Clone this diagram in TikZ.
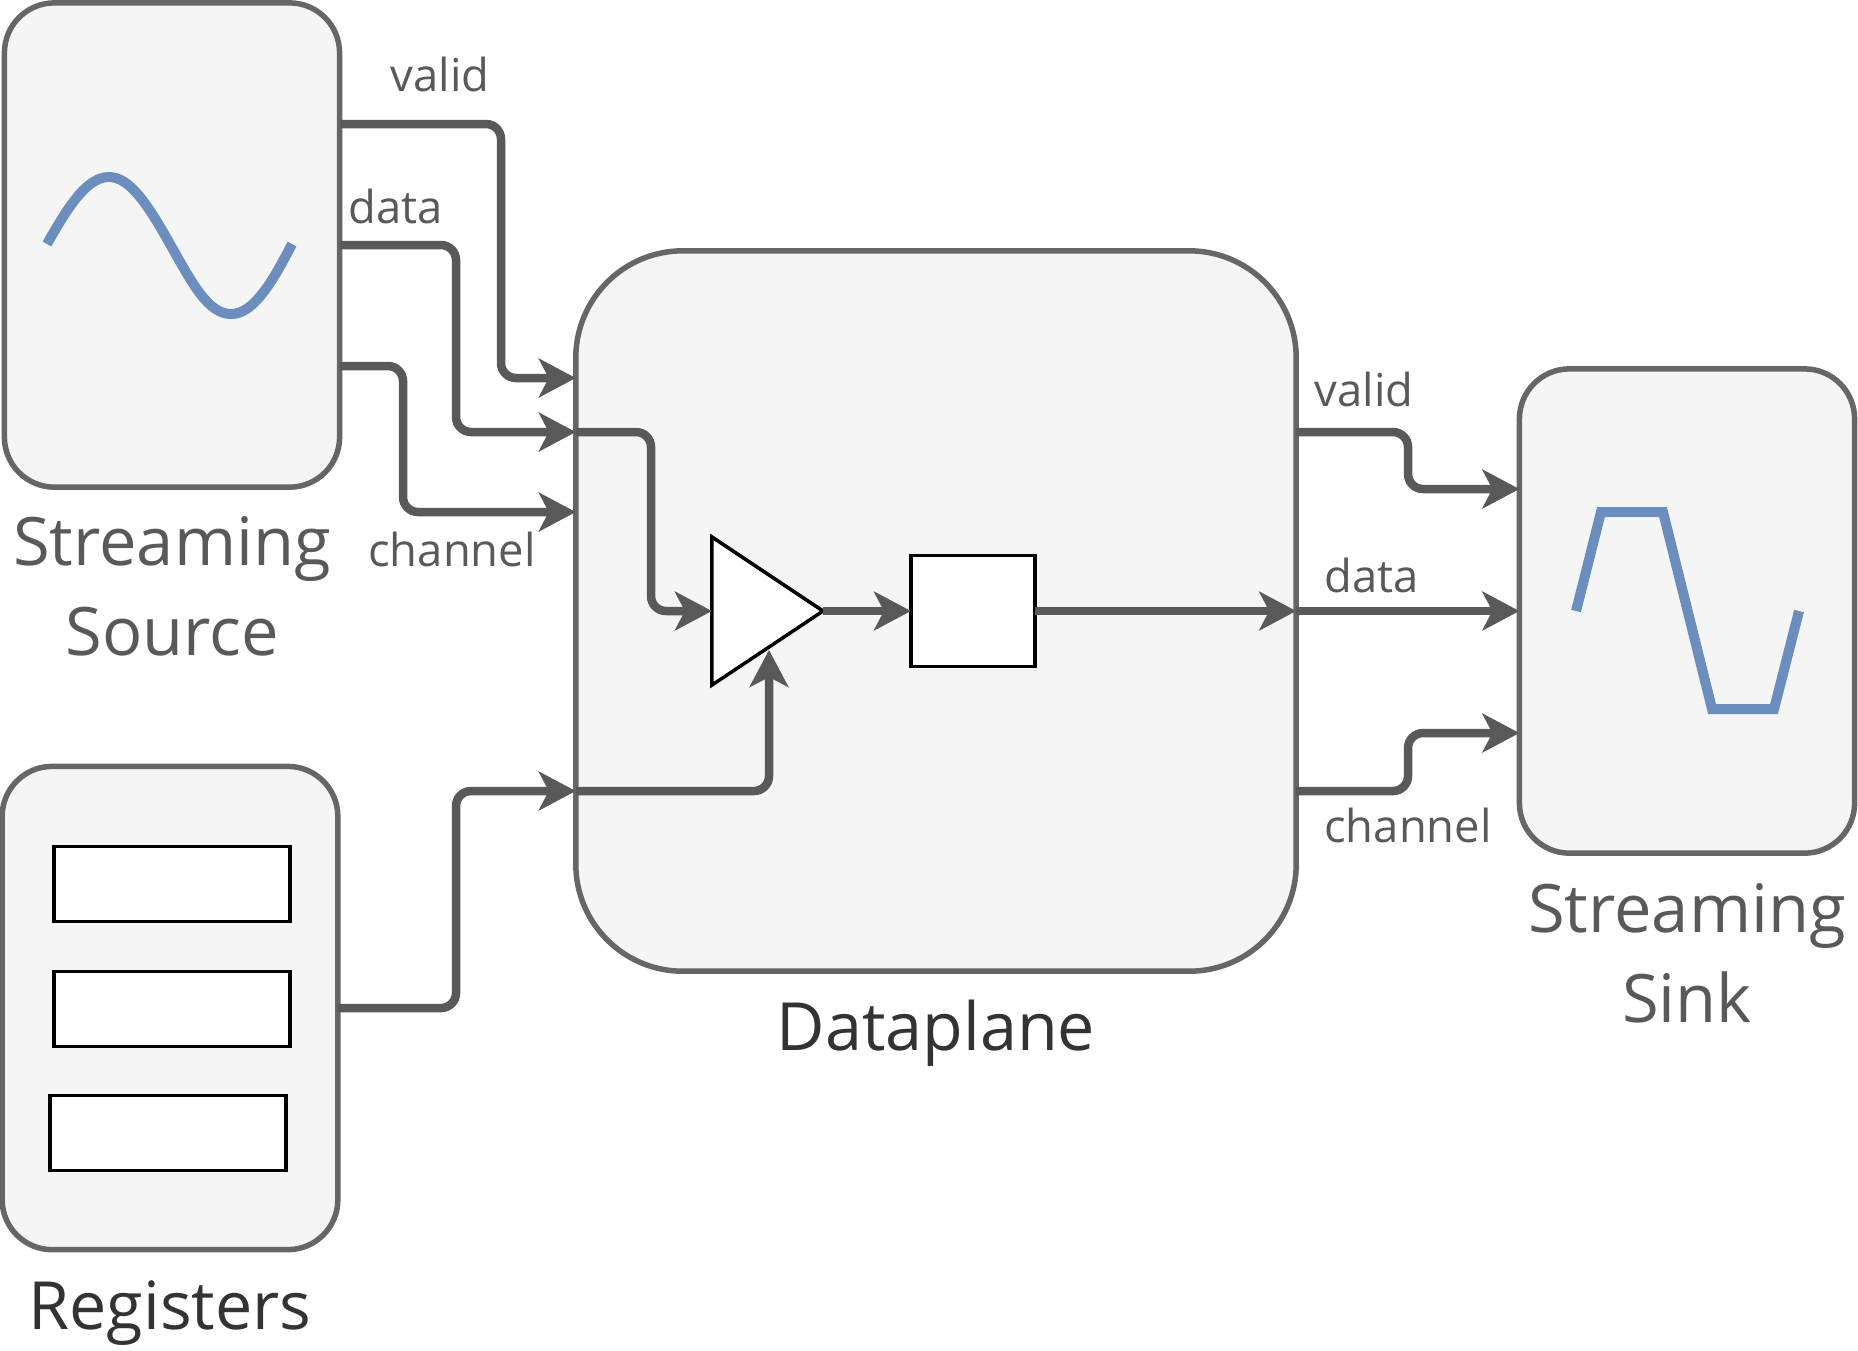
\documentclass[tikz,border=0pt]{standalone}
\usepackage{fontspec}
\setmainfont{Open Sans}
\usetikzlibrary{arrows.meta,shapes.geometric}
\definecolor{boxfill}{HTML}{F5F5F5}
\definecolor{boxline}{HTML}{666666}
\definecolor{wirecol}{HTML}{595959}
\definecolor{wavecol}{HTML}{6C8EBF}
\definecolor{titlecol}{HTML}{333333}
\tikzset{
	block/.style={draw=boxline, fill=boxfill, line width=0.055cm, outer sep=0, inner sep=0, rounded corners=0.5cm},
	plain/.style={draw=black, fill=white, line width=0.035cm, outer sep=0, inner sep=0},
	wire/.style={draw=wirecol, line width=0.085cm, rounded corners=0.15cm, -{Stealth[length=10.5pt,width=11pt,inset=2.8pt]}},
	wave/.style={draw=wavecol, line width=0.1cm},
	siglabel/.style={text=wirecol, font=\fontsize{12.9}{15}\selectfont},
	blocklabel/.style={text=wirecol, align=center, font=\fontsize{19}{25.5}\selectfont},
	titlelabel/.style={text=titlecol, font=\fontsize{18.9}{22}\selectfont}
}
\begin{document}
\begin{tikzpicture}[x=0.01cm, y=-0.01cm]
	\path[use as bounding box] (0,0) rectangle (1858,1350);
	% blocks
	\node [block, minimum width=3.35cm, minimum height=4.84cm] (source) at (172,245) {};
	\node [block, minimum width=3.355cm, minimum height=4.83cm] (registers) at (170,1008) {};
	\node [block, minimum width=7.2cm, minimum height=7.2cm, rounded corners=1.07cm] (dataplane) at (936,611) {};
	\node [block, minimum width=3.35cm, minimum height=4.84cm] (sink) at (1687,611) {};
	% inside the blocks
	\node [plain, minimum width=2.36cm, minimum height=0.75cm] (regone) at (172,884) {};
	\node [plain, minimum width=2.36cm, minimum height=0.75cm] (regtwo) at (172,1009) {};
	\node [plain, minimum width=2.36cm, minimum height=0.75cm] (regthree) at (168,1133) {};
	\node [plain, isosceles triangle, isosceles triangle stretches, shape border rotate=0,
		minimum width=1.48cm, minimum height=1.11cm, anchor=apex] (amp) at (823,611) {};
	\node [plain, minimum width=1.24cm, minimum height=1.11cm] (delay) at (973,611) {};
	\draw[wave] (47,244) .. controls (70,203) and (88,177) .. (109,177)
		.. controls (130,177) and (148,205) .. (170,244)
		.. controls (192,283) and (208,314) .. (231,314)
		.. controls (252,314) and (270,287) .. (292,244);
	\draw[wave] (1576,611) -- (1601,512) -- (1663,512) -- (1712,709) -- (1774,709) -- (1799,611);
	% ports
	\coordinate (srcvalid) at (source.east |- 0,124);
	\coordinate (srcdata) at (source.east |- 0,245);
	\coordinate (srcchannel) at (source.east |- 0,366);
	\coordinate (dpvalid) at (dataplane.west |- 0,378);
	\coordinate (dpdata) at (dataplane.west |- 0,432);
	\coordinate (dpchannel) at (dataplane.west |- 0,512);
	\coordinate (dpctrl) at (dataplane.west |- 0,791);
	\coordinate (outvalid) at (dataplane.east |- 0,432);
	\coordinate (outchannel) at (dataplane.east |- 0,791);
	\coordinate (snkvalid) at (sink.west |- 0,489);
	\coordinate (snkchannel) at (sink.west |- 0,733);
	\coordinate (ampctrl) at (769,650);
	% connectors
	\draw[wire] (srcvalid) -| (501,378) -- (dpvalid);
	\draw[wire] (srcdata) -| (456,432) -- (dpdata);
	\draw[wire] (srcchannel) -| (403,512) -- (dpchannel);
	\draw[wire] (registers.east) -| (456,791) -- (dpctrl);
	\draw[wire] (dpdata) -| (651,611) -- (amp.west |- 0,611);
	\draw[wire] (dpctrl) -| (ampctrl);
	\draw[wire] (amp.apex) -- (delay.west);
	\draw[wire] (delay.east) -- (dataplane.east);
	\draw[wire] (dataplane.east) -- (sink.west);
	\draw[wire] (outvalid) -| (1408,489) -- (snkvalid);
	\draw[wire] (outchannel) -| (1408,733) -- (snkchannel);
	% labels
	\node [siglabel] (lvalid) at (440,74) {valid};
	\node [siglabel] (ldata) at (396,206) {data};
	\node [siglabel] (lchannel) at (452,549) {channel};
	\node [siglabel] (rvalid) at (1364,389) {valid};
	\node [siglabel] (rdata) at (1372,575) {data};
	\node [siglabel] (rchannel) at (1408,825) {channel};
	\node [blocklabel] (lsource) at (172,586) {Streaming\\Source};
	\node [blocklabel] (lsink) at (1687,953) {Streaming\\Sink};
	\node [titlelabel] (lregisters) at (170,1313) {Registers};
	\node [titlelabel] (ldataplane) at (936,1033) {Dataplane};
\end{tikzpicture}
\end{document}
